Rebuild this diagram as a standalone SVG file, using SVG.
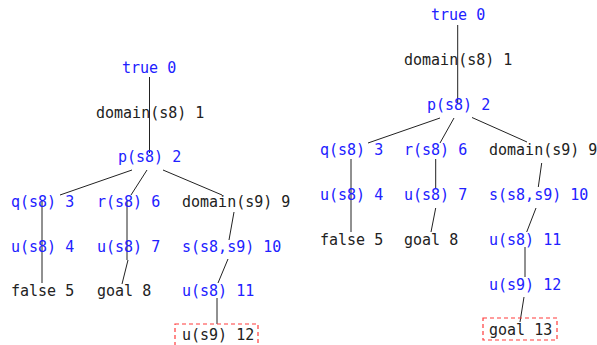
<svg xmlns="http://www.w3.org/2000/svg" width="597" height="345" viewBox="0 0 597 345">
<style>
text{font-family:"DejaVu Sans Mono","Liberation Mono",monospace;font-size:15px}
.b{fill:#2121ff}
.k{fill:#222}
.e line{stroke:#222;stroke-width:1}
.hl{fill:none;stroke:#ff3b3b;stroke-width:1.2;stroke-dasharray:4,3}
</style>
<rect width="597" height="345" fill="#fff"/>
<g class="e" id="edges">
<line x1="149.5" y1="77" x2="149.5" y2="118"/>
<line x1="149.5" y1="118" x2="149.5" y2="153"/>
<line x1="132" y1="170" x2="60" y2="195"/>
<line x1="147" y1="170" x2="131" y2="195"/>
<line x1="163" y1="170" x2="222" y2="195"/>
<line x1="42" y1="200" x2="42" y2="242"/>
<line x1="42" y1="242" x2="42" y2="283"/>
<line x1="127" y1="200" x2="127" y2="260"/>
<line x1="128" y1="260" x2="122" y2="284"/>
<line x1="234" y1="212" x2="229" y2="240"/>
<line x1="228" y1="259" x2="218" y2="283"/>
<line x1="217" y1="298" x2="217" y2="324"/>
<line x1="457.7" y1="25" x2="457.7" y2="65"/>
<line x1="457.7" y1="65" x2="457.7" y2="103"/>
<line x1="440" y1="118" x2="368" y2="143"/>
<line x1="454" y1="118" x2="440" y2="143"/>
<line x1="472" y1="117.5" x2="527" y2="142"/>
<line x1="351" y1="159" x2="351" y2="200"/>
<line x1="351" y1="200" x2="351" y2="232"/>
<line x1="435.7" y1="159" x2="435.7" y2="188"/>
<line x1="435.7" y1="208" x2="431" y2="232"/>
<line x1="541.7" y1="163" x2="538.3" y2="187"/>
<line x1="536" y1="208" x2="526.7" y2="232"/>
<line x1="525" y1="247" x2="525" y2="277"/>
<line x1="524" y1="297" x2="520" y2="322"/>
</g>
<g id="L0"><text class="b" x="122" y="73">true 0</text></g>
<g id="L1"><text class="k" x="96" y="118">domain(s8) 1</text></g>
<g id="L2"><text class="b" x="118" y="162">p(s8) 2</text></g>
<g id="L3"><text class="b" x="11" y="207">q(s8) 3</text></g>
<g id="L4"><text class="b" x="11" y="252">u(s8) 4</text></g>
<g id="L5"><text class="k" x="11" y="296">false 5</text></g>
<g id="L6"><text class="b" x="97" y="207">r(s8) 6</text></g>
<g id="L7"><text class="b" x="97" y="252">u(s8) 7</text></g>
<g id="L8"><text class="k" x="97" y="296">goal 8</text></g>
<g id="L9"><text class="k" x="182" y="207">domain(s9) 9</text></g>
<g id="L10"><text class="b" x="182" y="252">s(s8,s9) 10</text></g>
<g id="L11"><text class="b" x="182" y="296">u(s8) 11</text></g>
<g id="L12"><rect class="hl" x="175" y="324" width="83" height="26"/><text class="k" x="182" y="340">u(s9) 12</text></g>
<g id="R0"><text class="b" x="431" y="20">true 0</text></g>
<g id="R1"><text class="k" x="404" y="65">domain(s8) 1</text></g>
<g id="R2"><text class="b" x="427" y="110">p(s8) 2</text></g>
<g id="R3"><text class="b" x="320" y="155">q(s8) 3</text></g>
<g id="R4"><text class="b" x="320" y="200">u(s8) 4</text></g>
<g id="R5"><text class="k" x="320" y="245">false 5</text></g>
<g id="R6"><text class="b" x="404" y="155">r(s8) 6</text></g>
<g id="R7"><text class="b" x="404" y="200">u(s8) 7</text></g>
<g id="R8"><text class="k" x="404" y="245">goal 8</text></g>
<g id="R9"><text class="k" x="489" y="155">domain(s9) 9</text></g>
<g id="R10"><text class="b" x="489" y="200">s(s8,s9) 10</text></g>
<g id="R11"><text class="b" x="489" y="245">u(s8) 11</text></g>
<g id="R12"><text class="b" x="489" y="290">u(s9) 12</text></g>
<g id="R13"><rect class="hl" x="483" y="318" width="74" height="22"/><text class="k" x="489" y="335">goal 13</text></g>
</svg>
